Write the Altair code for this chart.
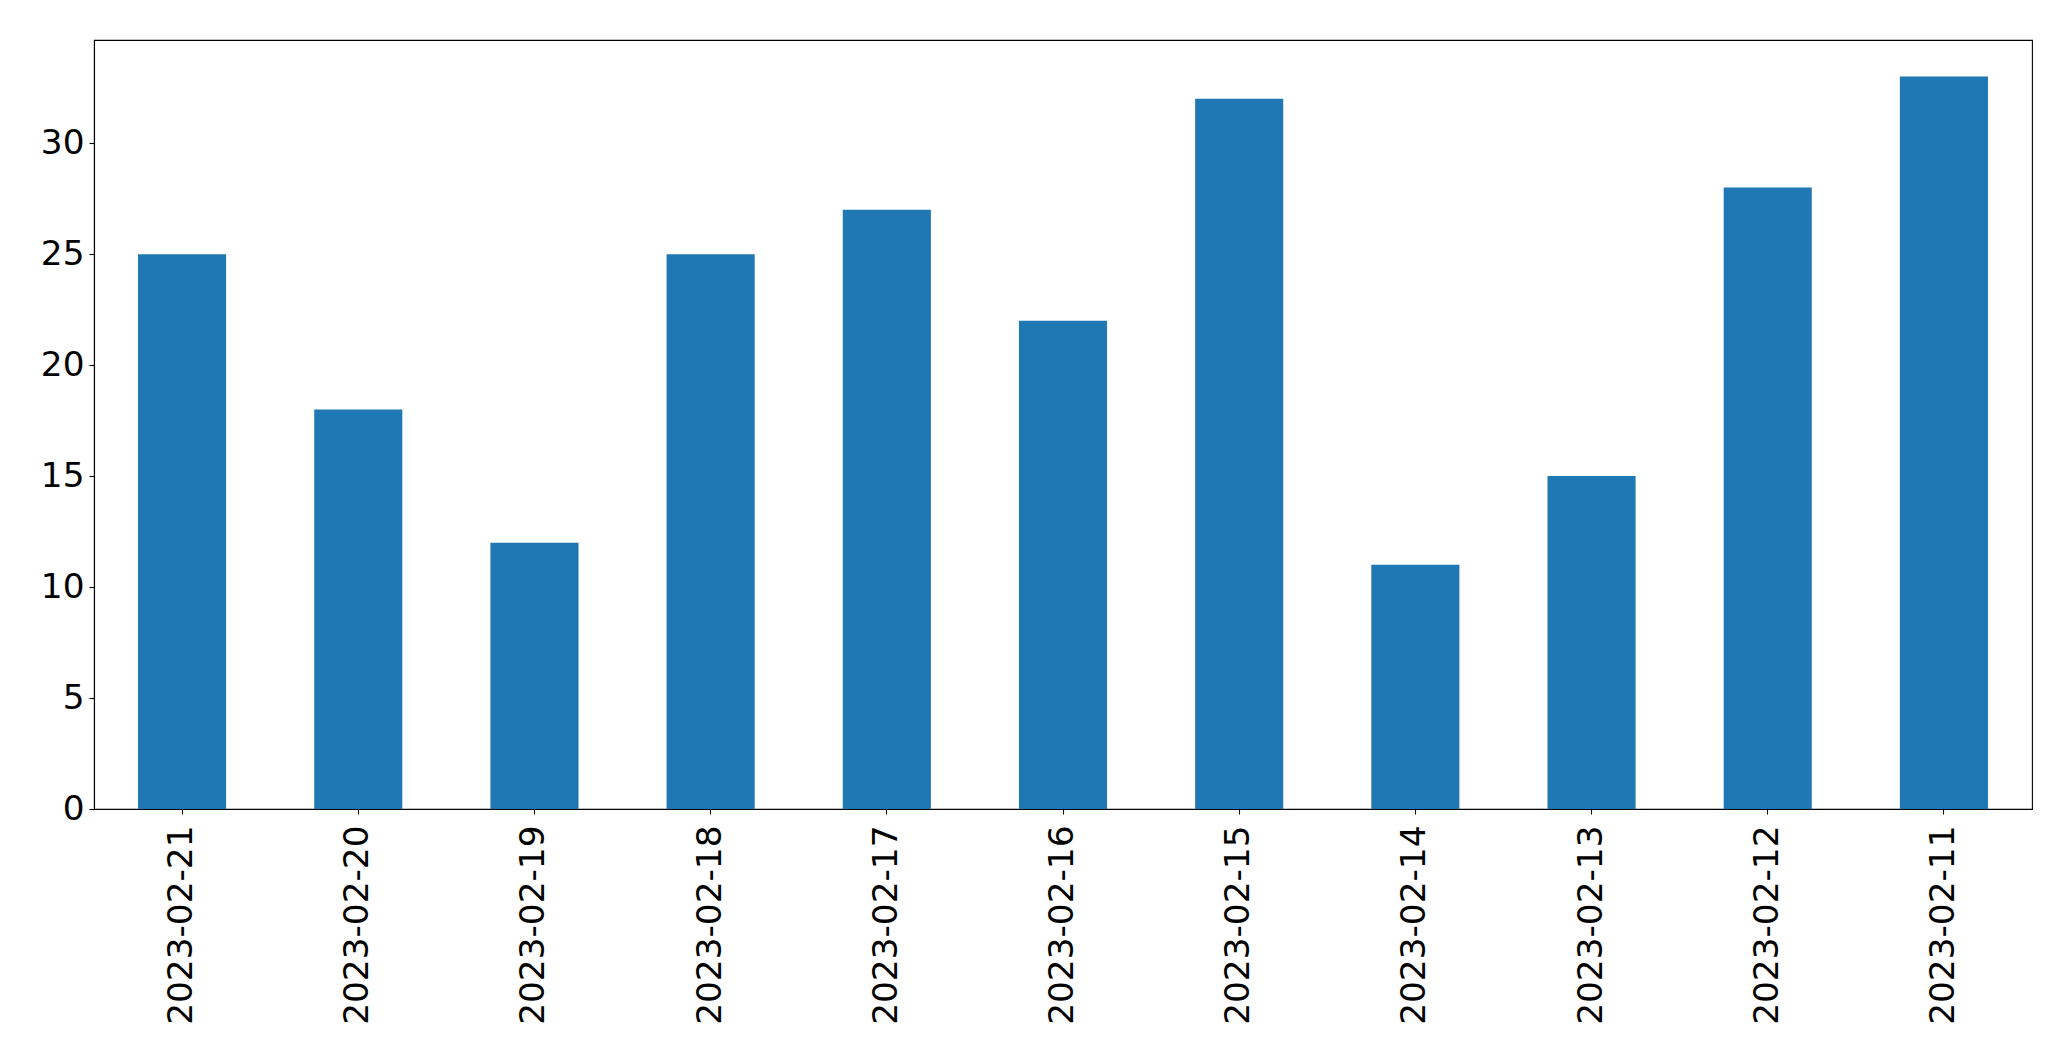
import altair as alt
import pandas as pd

dates = ["2023-02-21", "2023-02-20", "2023-02-19", "2023-02-18", "2023-02-17",
         "2023-02-16", "2023-02-15", "2023-02-14", "2023-02-13", "2023-02-12",
         "2023-02-11"]
values = [25, 18, 12, 25, 27, 22, 32, 11, 15, 28, 33]

df = pd.DataFrame({"date": dates, "value": values})

chart = (
    alt.Chart(df)
    .mark_bar(color="#1f77b4")
    .encode(
        x=alt.X(
            "date:N",
            sort=None,
            title=None,
            scale=alt.Scale(paddingInner=0.5, paddingOuter=0.25),
            axis=alt.Axis(
                labelAngle=-90,
                labelPadding=11,
                labelBaseline="middle",
                labelAlign="right",
                labelLimit=0,
            ),
        ),
        y=alt.Y(
            "value:Q",
            title=None,
            scale=alt.Scale(domain=[0, 34.65], nice=False, zero=True),
            axis=alt.Axis(
                values=[0, 5, 10, 15, 20, 25, 30],
                labelPadding=5,
            ),
        ),
    )
    .properties(
        width=1938,
        height=769,
        autosize=alt.AutoSizeParams(type="none"),
        padding={"left": 86, "top": 32, "right": 30, "bottom": 240},
        background="white",
    )
    .configure_axis(
        labelFont="DejaVu Sans",
        labelFontSize=34.3,
        labelColor="black",
        tickSize=5,
        tickColor="black",
        tickWidth=1.1,
        domainColor="black",
        domainWidth=1.1,
        grid=False,
        labelLimit=0,
    )
    .configure_view(stroke="black", strokeWidth=1.1)
)

chart.save("out.html", embed_options={"renderer": "svg", "actions": False})
